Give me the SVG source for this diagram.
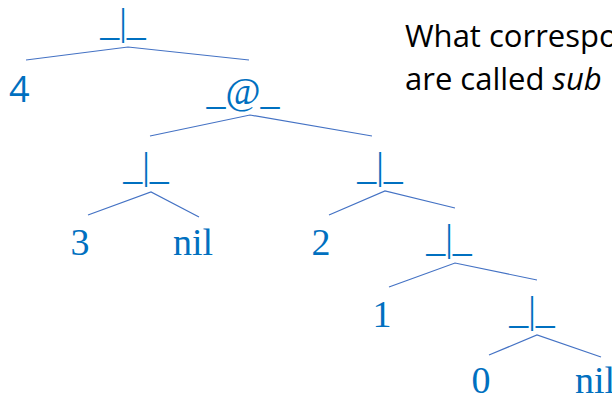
<svg xmlns="http://www.w3.org/2000/svg" width="612" height="400" viewBox="0 0 612 400">
<style>
.lbl{font-family:"Liberation Serif","Times New Roman",serif;font-size:38px;fill:#0070C0;text-anchor:middle}
.num4{font-family:"Open Sans","Liberation Sans",sans-serif;font-size:36px;fill:#0070C0}
.edge{stroke:#4472C4;stroke-width:1.2;fill:none}
.txt{font-family:"Open Sans","Liberation Sans",sans-serif;font-size:31px;fill:#000}
</style>
<rect width="612" height="400" fill="#fff"/>
<g id="connectors">
<polyline class="edge" points="26,60 128,47 249,60"/>
<polyline class="edge" points="150,136 250,115 372,136"/>
<polyline class="edge" points="88,215 151,192 199,217"/>
<polyline class="edge" points="329,215 385,191 455,208"/>
<polyline class="edge" points="389,287 455,263 537,280"/>
<polyline class="edge" points="489,355 537,335 601,357"/>
</g>
<g id="n_root"><text class="lbl" x="123" y="35">_|_</text></g>
<g id="n_4"><text class="num4" x="9" y="102">4</text></g>
<g id="n_at"><text class="lbl" x="243" y="104">_@_</text></g>
<g id="n_cons1"><text class="lbl" x="146" y="179">_|_</text></g>
<g id="n_3"><text class="lbl" x="80" y="255">3</text></g>
<g id="n_nil1"><text class="lbl" x="193" y="255">nil</text></g>
<g id="n_cons2"><text class="lbl" x="380" y="179">_|_</text></g>
<g id="n_2"><text class="lbl" x="321" y="255">2</text></g>
<g id="n_cons3"><text class="lbl" x="449" y="251">_|_</text></g>
<g id="n_1"><text class="lbl" x="382" y="327">1</text></g>
<g id="n_cons4"><text class="lbl" x="532" y="323">_|_</text></g>
<g id="n_0"><text class="lbl" x="481" y="393">0</text></g>
<g id="n_nil2"><text class="lbl" x="575" y="393" style="text-anchor:start">nil</text></g>
<g id="caption">
<text class="txt" x="405" y="47">What correspo</text>
<text class="txt" x="405" y="90">are called <tspan font-style="italic">sub</tspan></text>
</g>
</svg>
